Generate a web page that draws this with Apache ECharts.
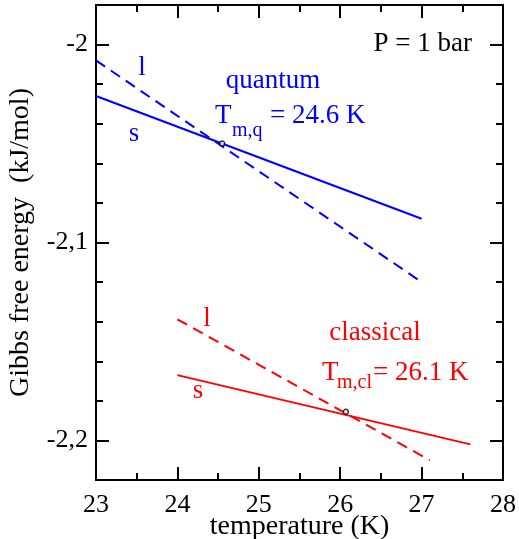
<!DOCTYPE html>
<html>
<head>
<meta charset="utf-8">
<script src="https://cdn.jsdelivr.net/npm/echarts@6/dist/echarts.min.js"></script>
<style>
    html, body { margin: 0; padding: 0; background: #fff; }
    #chart { width: 519px; height: 539px; }
</style>
</head>
<body>
<div id="chart"></div>
<script>
// data
const quantumSolidT = [23, 27]
const quantumSolidG = [-2.026, -2.088]
const quantumLiquidT = [23, 27]
const quantumLiquidG = [-2.008, -2.12]
const classicalSolidT = [24, 27.6]
const classicalSolidG = [-2.167, -2.202]
const classicalLiquidT = [24, 27.1]
const classicalLiquidG = [-2.1388, -2.21]
const meltT = [24.55, 26.07]
const meltG = [-2.050, -2.1855]

const yMajorTicks = [-2.2, -2.1, -2.0]
const yMinorTicks = [-2.22, -2.18, -2.16, -2.14, -2.12, -2.08, -2.06, -2.04, -2.02, -1.98]

const FONT = 'Liberation Serif'
const BLUE = '#0000ff'
const RED = '#ff0000'

function pairs(xs, ys) {
    return xs.map((x, i) => [x, ys[i]])
}

const axisLine = { show: true, onZero: false, lineStyle: { color: '#000', width: 2 } }

function xAxis(pos, labels) {
    return {
        type: 'value', position: pos, min: 23, max: 28, interval: 1,
        axisLine: axisLine,
        axisTick: { inside: true, length: 13, lineStyle: { color: '#000', width: 2 } },
        minorTick: { show: true, splitNumber: 2, length: 7, lineStyle: { color: '#000', width: 2 } },
        splitLine: { show: false },
        minorSplitLine: { show: false },
        axisLabel: { show: labels, fontFamily: FONT, fontSize: 26, color: '#000', margin: 12 },
        name: labels ? 'temperature (K)' : '',
        nameLocation: 'middle',
        nameGap: 33,
        nameMoveOverlap: false,
        nameTextStyle: { fontFamily: FONT, fontSize: 28, color: '#000' }
    }
}

function yAxis(pos, ticks, len, labels) {
    return {
        type: 'value', position: pos, min: -2.22, max: -1.98, interval: 0.02,
        axisLine: axisLine,
        axisTick: { inside: true, length: len, customValues: ticks, lineStyle: { color: '#000', width: 2 } },
        splitLine: { show: false },
        axisLabel: {
            show: labels, customValues: yMajorTicks, fontFamily: FONT, fontSize: 26, color: '#000', margin: 8,
            formatter: v => String(Math.round(v * 10) / 10).replace('.', ',')
        },
        name: labels ? 'Gibbs free energy  (kJ/mol)' : '',
        nameLocation: 'middle',
        nameGap: 61,
        nameMoveOverlap: false,
        nameTextStyle: { fontFamily: FONT, fontSize: 28, color: '#000' }
    }
}

function txt(text, x, y, size, color, align) {
    return {
        type: 'text', x: x, y: y, z: 10,
        style: { text: text, fontFamily: FONT, fontSize: size, fill: color, align: align || 'left', verticalAlign: 'middle' }
    }
}

const chart = echarts.init(document.getElementById('chart'))

const option = {
    animation: false,
    grid: { left: 96, right: 16, top: 5, bottom: 59, containLabel: false, outerBoundsMode: 'none' },
    xAxis: [xAxis('bottom', true), xAxis('top', false)],
    yAxis: [
        yAxis('left', yMajorTicks, 13, true),
        yAxis('left', yMinorTicks, 7, false),
        yAxis('right', yMajorTicks, 13, false),
        yAxis('right', yMinorTicks, 7, false)
    ],
    series: [
        {
            name: 'quantum s', type: 'line', data: pairs(quantumSolidT, quantumSolidG),
            showSymbol: false, lineStyle: { color: BLUE, width: 2 }
        },
        {
            name: 'quantum l', type: 'line', data: pairs(quantumLiquidT, quantumLiquidG),
            showSymbol: false, lineStyle: { color: BLUE, width: 2, type: [11, 7] }
        },
        {
            name: 'classical s', type: 'line', data: pairs(classicalSolidT, classicalSolidG),
            showSymbol: false, lineStyle: { color: RED, width: 2 }
        },
        {
            name: 'classical l', type: 'line', data: pairs(classicalLiquidT, classicalLiquidG),
            showSymbol: false, lineStyle: { color: RED, width: 2, type: [11, 7] }
        },
        {
            name: 'melting', type: 'scatter', data: pairs(meltT, meltG), z: 5,
            symbol: 'circle', symbolSize: 5,
            itemStyle: { color: '#fff', borderColor: '#000', borderWidth: 1.5 }
        }
    ],
    graphic: [
        txt('P = 1 bar', 472, 44, 27, '#000', 'right'),
        txt('quantum', 273, 81, 27, BLUE, 'center'),
        txt('T', 215, 116, 27, BLUE),
        txt('m,q', 232, 131, 20, BLUE),
        txt('= 24.6 K', 270, 116, 27, BLUE),
        txt('l', 142, 68, 27, BLUE, 'center'),
        txt('s', 134, 134, 27, BLUE, 'center'),
        txt('classical', 375, 333, 27, RED, 'center'),
        txt('T', 322, 373, 27, RED),
        txt('m,cl', 337, 383, 20, RED),
        txt('= 26.1 K', 373, 373, 27, RED),
        txt('l', 207, 319, 27, RED, 'center'),
        txt('s', 198, 391, 27, RED, 'center')
    ]
}

chart.setOption(option)
</script>
</body>
</html>
